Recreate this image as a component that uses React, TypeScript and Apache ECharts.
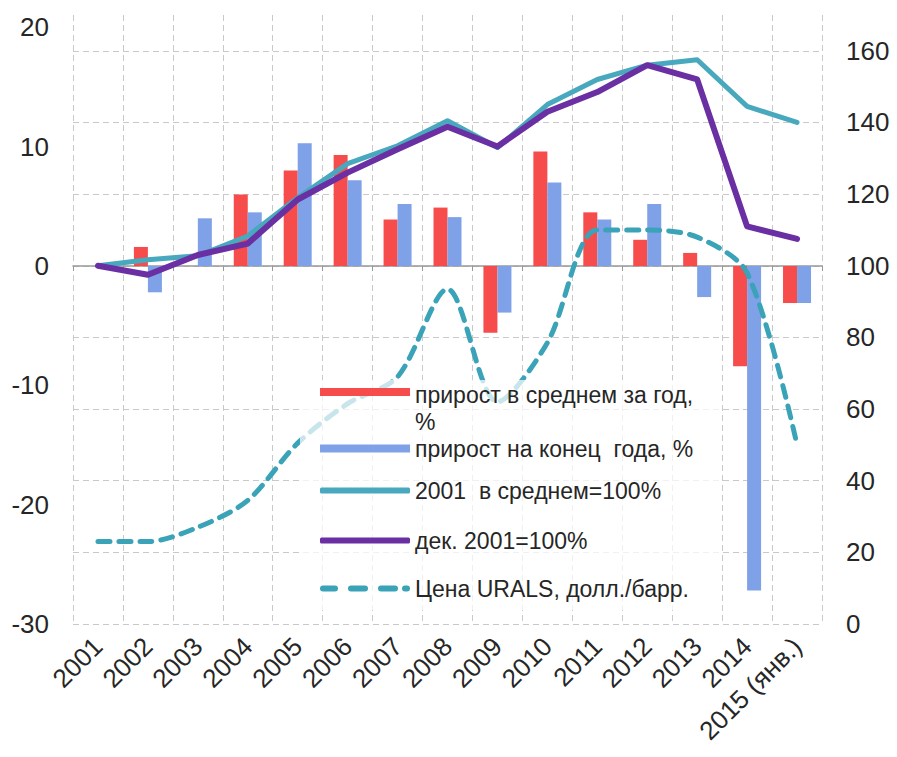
import React, { useEffect, useRef } from "react";
import * as echarts from "echarts";

const categories = ["2001", "2002", "2003", "2004", "2005", "2006", "2007", "2008", "2009", "2010", "2011", "2012", "2013", "2014", "2015 (янв.)"];
const avgGrowth = [null, 1.6, 0, 6.0, 8.0, 9.3, 3.9, 4.9, -5.6, 9.6, 4.5, 2.2, 1.1, -8.4, -3.1];
const endGrowth = [null, -2.2, 4.0, 4.5, 10.3, 7.2, 5.2, 4.1, -3.9, 7.0, 3.9, 5.2, -2.6, -27.2, -3.1];
const avgIndex = [100, 101.7, 102.8, 108.3, 119, 128.5, 133.5, 140.5, 133, 145, 152, 156, 157.5, 144.5, 140];
const decIndex = [100, 97.5, 103, 106.2, 118.5, 126, 132.5, 138.8, 133.3, 143, 148.5, 156, 152, 111, 107.5];
const urals = [23, 23, 27, 34.5, 50.5, 61.5, 69, 93.5, 62, 78.5, 110, 110, 108, 98, 50];

const leftTicks = [-30, -20, -10, 0, 10, 20];
const rightTicks = [0, 20, 40, 60, 80, 100, 120, 140, 160];

const names = {
  avg: "прирост в среднем за год, %",
  end: "прирост на конец  года, %",
  idxAvg: "2001  в среднем=100%",
  idxDec: "дек. 2001=100%",
  urals: "Цена URALS, долл./барр.",
};

const FONT = "'Liberation Sans', Arial, sans-serif";
const RED = "#F64C4C";
const BLUE = "#7EA1E8";
const TEAL = "#48A9BE";
const TEAL_D = "#3AA3B8";
const PURPLE = "#6A2FA2";
const GRID = "#c9c9c9";

// legend icon shapes
const ICON_BAR_TOP = "path://M0,0h90v8h-90z M0,40h1v0h-1z";
const ICON_DASH = "path://M3,0h12a3,3 0 0 1 0,6h-12a3,3 0 0 1 0,-6z M31,0h14a3,3 0 0 1 0,6h-14a3,3 0 0 1 0,-6z M61,0h14a3,3 0 0 1 0,6h-14a3,3 0 0 1 0,-6z M85,0h2a3,3 0 0 1 0,6h-2a3,3 0 0 1 0,-6z";

export default function App() {
  const ref = useRef<HTMLDivElement>(null);
  useEffect(() => {
    if (!ref.current) return;
    const chart = echarts.init(ref.current, null, { renderer: "svg" });
    const legendText = { fontFamily: FONT, fontSize: 23, color: "#262626" };
    const mkLegend = (name: string, top: number, extra: any = {}) => ({
      show: true,
      left: 320,
      top,
      padding: 0,
      itemWidth: 90,
      itemHeight: 6,
      data: [name],
      selectedMode: false,
      textStyle: { ...legendText },
      ...extra,
    });
    const splitColors = rightTicks.map(() => GRID).concat(["rgba(0,0,0,0)"]);
    chart.setOption({
      animation: false,
      backgroundColor: "#ffffff",
      textStyle: { fontFamily: FONT },
      grid: { left: 73, right: 75, top: 15, bottom: 133, containLabel: false },
      graphic: [
        {
          type: "rect",
          z: 3,
          shape: { x: 300, y: 380, width: 420, height: 230 },
          style: { fill: "rgba(255,255,255,0.72)" },
          silent: true,
        },
      ],
      legend: [
        mkLegend(names.avg, 381, {
          itemHeight: 40,
          icon: ICON_BAR_TOP,
          formatter: () => "прирост в среднем за год,\n%",
          textStyle: { ...legendText, lineHeight: 27 },
        }),
        mkLegend(names.end, 437, { itemHeight: 8, icon: "rect" }),
        mkLegend(names.idxAvg, 479, { itemHeight: 6, icon: "roundRect" }),
        mkLegend(names.idxDec, 529, { itemHeight: 6, icon: "roundRect" }),
        mkLegend(names.urals, 577, { itemHeight: 6, icon: ICON_DASH }),
      ],
      xAxis: [
        {
          type: "category",
          data: categories,
          position: "bottom",
          axisLine: { show: false, onZero: false },
          axisTick: { show: false },
          splitLine: { show: true, interval: 0, lineStyle: { color: GRID, type: [6, 4], width: 1 } },
          axisLabel: {
            interval: 0,
            rotate: 45,
            margin: 18,
            fontSize: 26,
            fontFamily: FONT,
            color: "#262626",
          },
        },
        {
          type: "category",
          data: categories,
          position: "top",
          axisLine: { show: true, onZero: true, onZeroAxisIndex: 0, lineStyle: { color: "#999", width: 1.5 } },
          axisTick: { show: true, inside: true, length: 5, interval: 0, lineStyle: { color: "#999" } },
          axisLabel: { show: false },
          splitLine: { show: false },
        },
      ],
      yAxis: [
        {
          type: "value",
          min: leftTicks[0],
          max: 21.04,
          interval: 10,
          position: "left",
          axisLine: { show: false },
          axisTick: { show: false },
          splitLine: { show: false },
          axisLabel: {
            showMaxLabel: false,
            margin: 24,
            fontSize: 26,
            fontFamily: FONT,
            color: "#262626",
            formatter: (v: number) => (leftTicks.includes(v) ? String(v) : ""),
          },
        },
        {
          type: "value",
          min: rightTicks[0],
          max: 170,
          interval: 20,
          position: "right",
          axisLine: { show: false },
          axisTick: { show: false },
          splitLine: { show: true, lineStyle: { color: splitColors, type: [6, 4], width: 1 } },
          axisLabel: {
            showMaxLabel: false,
            margin: 24,
            fontSize: 26,
            fontFamily: FONT,
            color: "#262626",
            formatter: (v: number) => (rightTicks.includes(v) ? String(v) : ""),
          },
        },
      ],
      series: [
        {
          name: names.avg,
          type: "bar",
          yAxisIndex: 0,
          data: avgGrowth,
          barWidth: 14,
          barGap: "0%",
          itemStyle: { color: RED },
          z: 2,
        },
        {
          name: names.end,
          type: "bar",
          yAxisIndex: 0,
          data: endGrowth,
          barWidth: 14,
          barGap: "0%",
          itemStyle: { color: BLUE },
          z: 2,
        },
        {
          name: names.idxAvg,
          type: "line",
          yAxisIndex: 1,
          data: avgIndex,
          symbol: "none",
          lineStyle: { color: TEAL, width: 5, cap: "round", join: "round" },
          itemStyle: { color: TEAL },
          z: 3,
        },
        {
          name: names.idxDec,
          type: "line",
          yAxisIndex: 1,
          data: decIndex,
          symbol: "none",
          lineStyle: { color: PURPLE, width: 6, cap: "round", join: "round" },
          itemStyle: { color: PURPLE },
          z: 3,
        },
        {
          name: names.urals,
          type: "line",
          yAxisIndex: 1,
          data: urals,
          symbol: "none",
          smooth: 0.3,
          lineStyle: { color: TEAL_D, width: 5, type: [12, 9], cap: "round" },
          itemStyle: { color: TEAL_D },
          z: 2,
        },
      ],
    });
    return () => chart.dispose();
  }, []);
  return (
    <div
      ref={ref}
      style={{ position: "absolute", left: 0, top: 0, width: 897, height: 757 }}
    />
  );
}
